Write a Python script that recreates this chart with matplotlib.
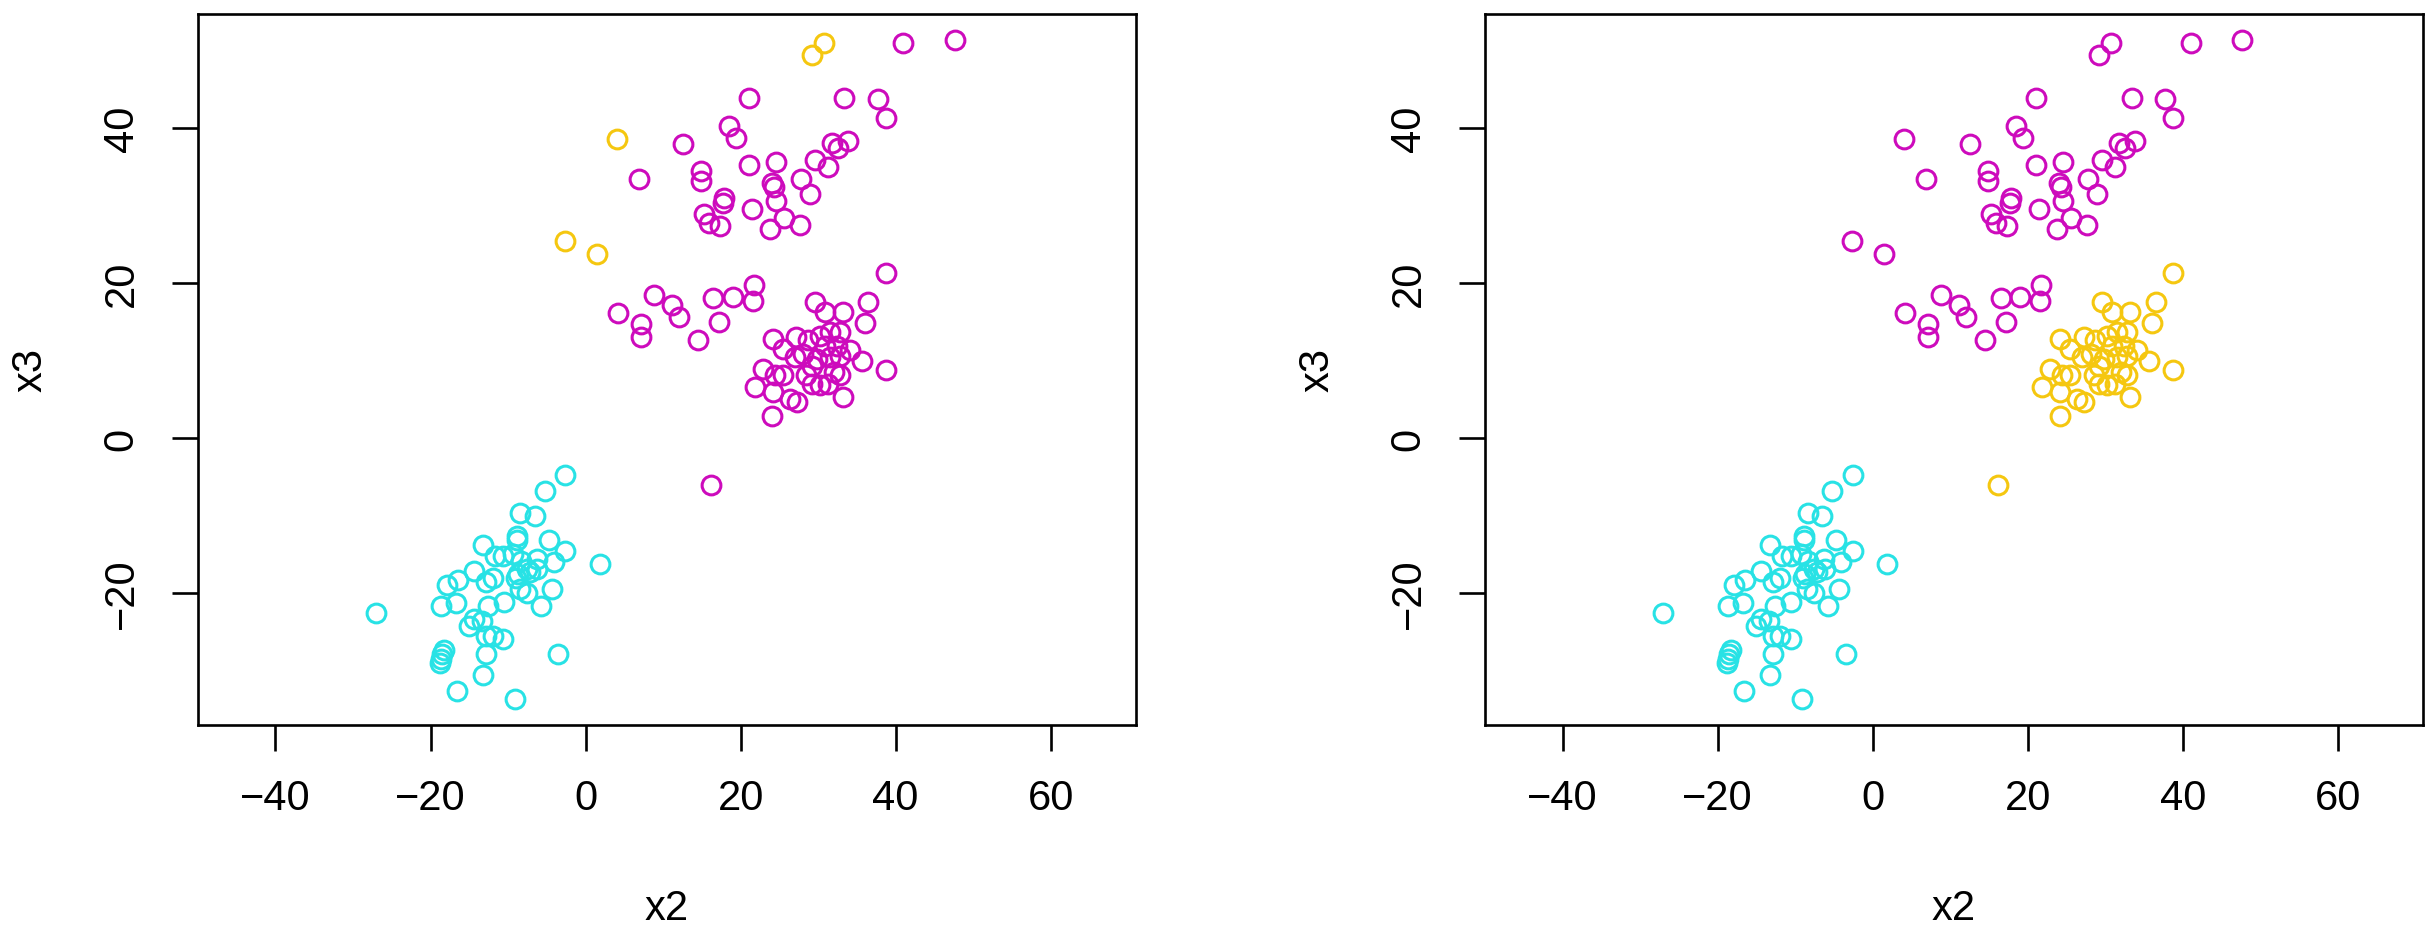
import matplotlib.pyplot as plt

plt.rcParams['font.family'] = ['Liberation Sans', 'DejaVu Sans']

# colours as in the reference (R 4 palette)
MAGENTA = '#CD0BBC'
CYAN = '#28E2E5'
YELLOW = '#F5C710'

# upper cluster + small group at left of the middle (magenta in both panels)
up_x2 = [41.0, 47.6, 21.1, 33.4, 37.7, 38.7, 18.5, 19.4, 12.6, 6.9, 14.9, 14.9,
         21.1, 24.6, 31.8, 32.6, 33.9, 29.6, 31.3, 27.8, 29.0, 24.0, 24.3, 24.6,
         17.8, 17.7, 15.3, 15.9, 17.3, 21.5, 25.6, 27.7, 23.8,
         4.2, 8.8, 11.1, 12.1, 7.1, 7.1, 14.5, 16.5, 19.0, 21.7, 21.6, 17.2]
up_x3 = [50.9, 51.4, 43.8, 43.8, 43.7, 41.3, 40.3, 38.7, 37.9, 33.4, 34.4, 33.1,
         35.2, 35.6, 38.1, 37.4, 38.3, 35.8, 35.0, 33.4, 31.5, 32.9, 32.4, 30.6,
         30.9, 30.3, 28.9, 27.7, 27.4, 29.6, 28.4, 27.5, 26.9,
         16.1, 18.4, 17.2, 15.6, 14.7, 13.0, 12.7, 18.1, 18.2, 19.8, 17.7, 15.0]

# points yellow on the left, magenta on the right
sw_x2 = [29.2, 30.8, 4.0, -2.7, 1.5]
sw_x3 = [49.4, 50.9, 38.6, 25.4, 23.7]

# right cluster (magenta on the left, yellow on the right)
rc_x2 = [38.8, 29.6, 30.9, 33.2, 36.5, 36.0, 24.2, 25.5, 27.2, 28.7, 30.2, 31.5,
         32.8, 30.9, 32.4, 27.0, 28.1, 29.8, 31.5, 32.8, 34.1, 35.6, 22.9, 24.4,
         25.5, 21.9, 24.2, 26.4, 27.3, 29.2, 30.2, 31.3, 32.0, 32.8, 33.2, 38.8,
         24.1, 29.2, 28.5, 16.2]
rc_x3 = [21.3, 17.5, 16.2, 16.2, 17.5, 14.9, 12.8, 11.5, 13.0, 12.6, 13.2, 13.7,
         13.7, 11.9, 11.9, 10.4, 10.9, 10.2, 10.4, 10.6, 11.3, 10.0, 8.9, 8.1,
         8.1, 6.6, 5.9, 5.1, 4.7, 7.0, 6.8, 7.0, 8.5, 8.1, 5.3, 8.8,
         2.9, 9.3, 8.1, -6.0]

# lower cluster (cyan in both panels)
lo_x2 = [-2.6, -5.2, -8.4, -6.5, -8.8, -8.9, -4.7, -2.6, -13.2, 1.9, -4.1, -4.3,
         -5.8, -3.5, -9.1, -16.6, -13.2, -12.8, -10.6, -11.9, -12.8, -18.3, -18.5,
         -18.7, -18.8, -27.0, -18.7, -16.7, -17.9, -16.5, -14.4, -15.1, -14.4,
         -13.4, -12.6, -10.5, -12.8, -11.9, -11.7, -10.6, -9.3, -8.3, -6.3, -7.6,
         -8.7, -7.2, -6.2, -8.5, -7.6, -9.0]
lo_x3 = [-4.7, -6.8, -9.6, -10.1, -12.6, -13.1, -13.1, -14.5, -13.8, -16.3, -16.0,
         -19.4, -21.6, -27.8, -33.6, -32.6, -30.5, -27.9, -25.9, -25.5, -25.5,
         -27.3, -27.9, -28.5, -29.0, -22.5, -21.6, -21.3, -19.0, -18.3, -17.1,
         -24.3, -23.3, -23.6, -21.6, -21.1, -18.6, -18.0, -15.2, -15.2, -15.0,
         -15.8, -15.6, -16.9, -17.5, -17.3, -16.9, -19.5, -20.0, -18.1]

groups = [(up_x2, up_x3), (sw_x2, sw_x3), (rc_x2, rc_x3), (lo_x2, lo_x3)]
left_cols = [MAGENTA, YELLOW, MAGENTA, CYAN]
right_cols = [MAGENTA, MAGENTA, YELLOW, CYAN]

fig = plt.figure(figsize=(24.35, 9.28), dpi=100)
ax1 = fig.add_axes([0.0813, 0.2177, 0.3852, 0.7662])
ax2 = fig.add_axes([0.6099, 0.2177, 0.3852, 0.7662])

for ax, cols in [(ax1, left_cols), (ax2, right_cols)]:
    for (gx, gy), c in zip(groups, cols):
        ax.plot(gx, gy, 'o', mfc='none', mec=c, ms=13.5, mew=2.2)
    ax.set_xlim(-50.0, 71.0)
    ax.set_ylim(-37.0, 54.7)
    ax.set_xticks([-40, -20, 0, 20, 40, 60])
    ax.set_yticks([-20, 0, 20, 40])
    for s in ax.spines.values():
        s.set_linewidth(1.9)
    ax.tick_params(length=18.5, width=1.9, labelsize=30, pad=20)
    ax.tick_params(axis='y', labelrotation=90, pad=22)
    for lab in ax.get_yticklabels():
        lab.set_va('center')
    ax.set_xlabel('x2', fontsize=30)
    ax.set_ylabel('x3', fontsize=30)
    ax.xaxis.set_label_coords(0.5, -0.257)
    ax.xaxis.label.set_va('center')
    ax.yaxis.set_label_coords(-0.179, 0.5)
    ax.yaxis.label.set_va('center')

fig.savefig('out.png', dpi=100)
